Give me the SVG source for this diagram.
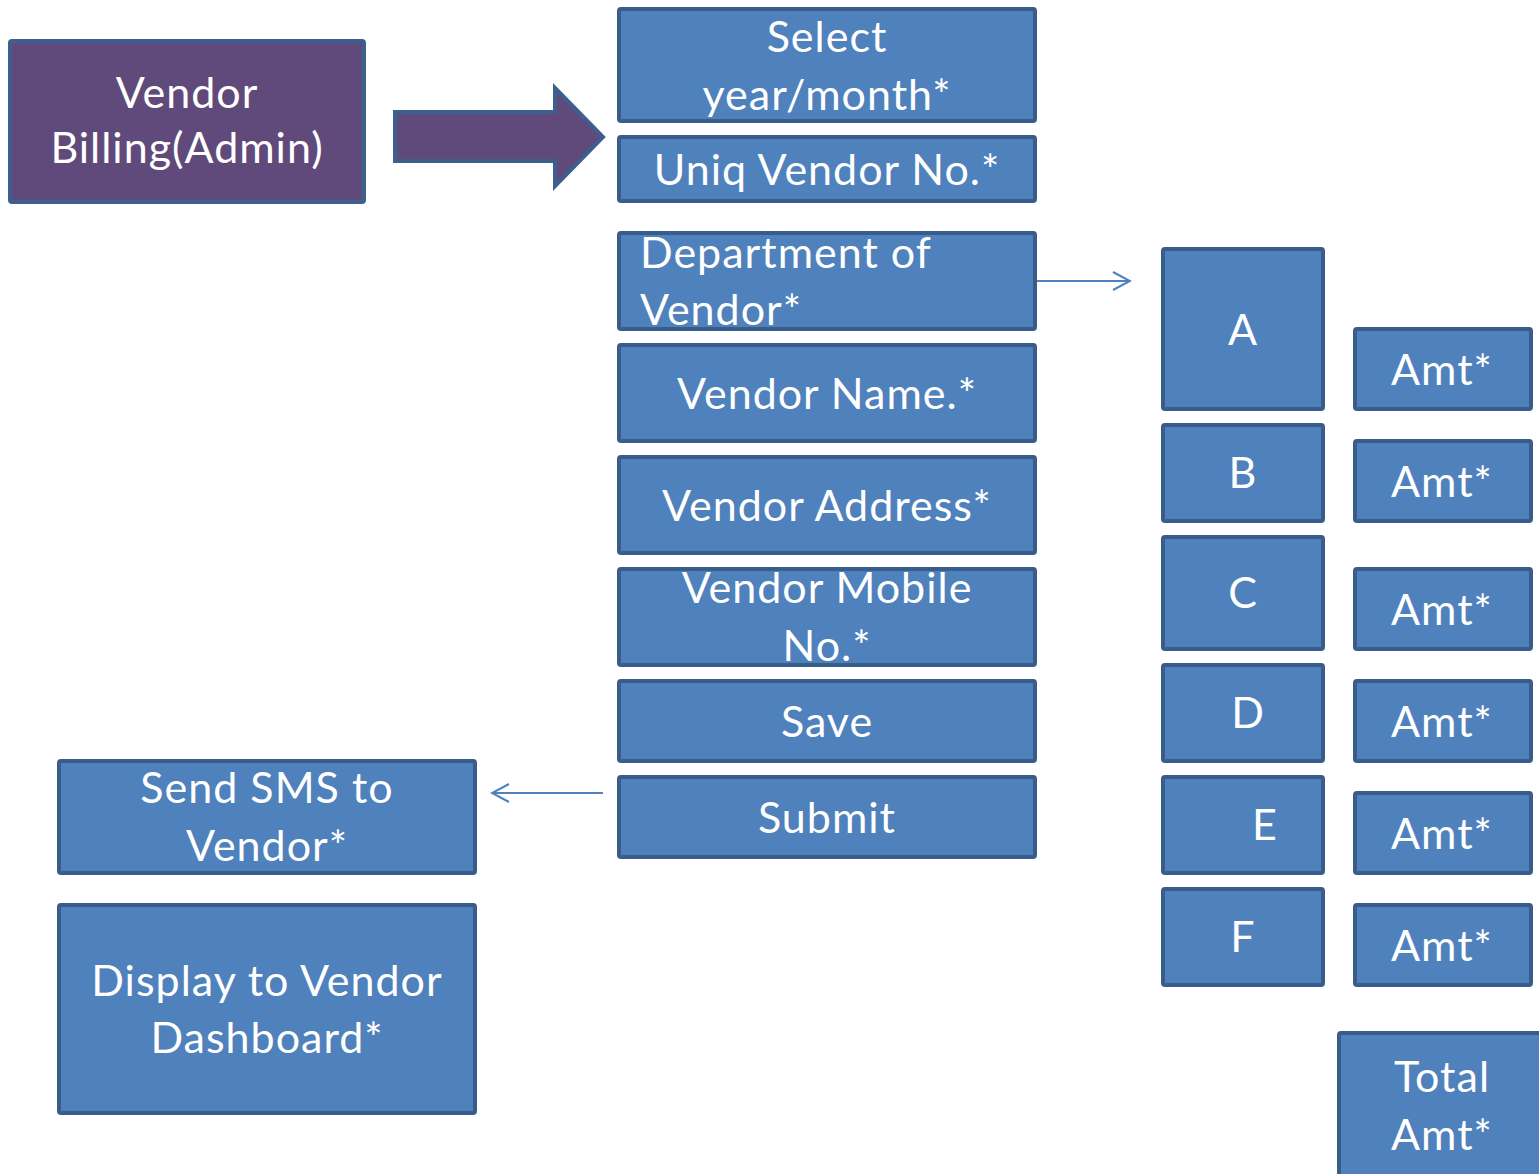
<svg xmlns="http://www.w3.org/2000/svg" width="1539" height="1174" viewBox="0 0 1539 1174">
<defs>
<style>
.box{fill:#4F81BD;stroke:#385D8A;stroke-width:4}
.pur{fill:#604A7B;stroke:#3D5F8E;stroke-width:4}
.t{font-family:Lato,"Open Sans","Liberation Sans",sans-serif;font-size:43px;letter-spacing:1px;fill:#FFFFFF;text-anchor:middle}
.tl{text-anchor:start}
.conn{stroke:#4F81BD;stroke-width:2;fill:none}
</style>
<marker id="open" viewBox="0 0 20 20" refX="18" refY="10" markerWidth="20" markerHeight="20" markerUnits="userSpaceOnUse" orient="auto">
<path d="M1,1 L18,10 L1,19" fill="none" stroke="#4F81BD" stroke-width="2"/>
</marker>
</defs>
<rect width="1539" height="1174" fill="#FFFFFF"/>
<g id="connectors">
<path id="bigarrow" class="pur" d="M395,112 L555,112 L555,88 L603,137 L555,186 L555,161 L395,161 Z"/>
<line class="conn" x1="1037" y1="281" x2="1130" y2="281" marker-end="url(#open)"/>
<line class="conn" x1="603" y1="793" x2="492" y2="793" marker-end="url(#open)"/>
</g>
<g id="vendor-billing"><rect class="pur" x="10" y="41" width="354" height="161" rx="2"/><text class="t" x="187" y="108">Vendor</text><text class="t" x="187" y="163">Billing(Admin)</text></g>
<g id="select"><rect class="box" x="619" y="9" width="416" height="112" rx="2"/><text class="t" x="827" y="52">Select</text><text class="t" x="827" y="110">year/month*</text></g>
<g id="uniq"><rect class="box" x="619" y="137" width="416" height="64" rx="2"/><text class="t" x="827" y="185">Uniq Vendor No.*</text></g>
<g id="dept"><rect class="box" x="619" y="233" width="416" height="96" rx="2"/><text class="t tl" x="640" y="268">Department of</text><text class="t tl" x="640" y="325">Vendor*</text></g>
<g id="name"><rect class="box" x="619" y="345" width="416" height="96" rx="2"/><text class="t" x="827" y="409">Vendor Name.*</text></g>
<g id="address"><rect class="box" x="619" y="457" width="416" height="96" rx="2"/><text class="t" x="827" y="521">Vendor Address*</text></g>
<g id="mobile"><rect class="box" x="619" y="569" width="416" height="96" rx="2"/><text class="t" x="827" y="603">Vendor Mobile</text><text class="t" x="827" y="661">No.*</text></g>
<g id="save"><rect class="box" x="619" y="681" width="416" height="80" rx="2"/><text class="t" x="827" y="737">Save</text></g>
<g id="submit"><rect class="box" x="619" y="777" width="416" height="80" rx="2"/><text class="t" x="827" y="833">Submit</text></g>
<g id="sms"><rect class="box" x="59" y="761" width="416" height="112" rx="2"/><text class="t" x="267" y="803">Send SMS to</text><text class="t" x="267" y="861">Vendor*</text></g>
<g id="display"><rect class="box" x="59" y="905" width="416" height="208" rx="2"/><text class="t" x="267" y="996">Display to Vendor</text><text class="t" x="267" y="1053">Dashboard*</text></g>
<g id="A"><rect class="box" x="1163" y="249" width="160" height="160" rx="2"/><text class="t" x="1243" y="345">A</text></g>
<g id="B"><rect class="box" x="1163" y="425" width="160" height="96" rx="2"/><text class="t" x="1243" y="488">B</text></g>
<g id="C"><rect class="box" x="1163" y="537" width="160" height="112" rx="2"/><text class="t" x="1243" y="608">C</text></g>
<g id="D"><rect class="box" x="1163" y="665" width="160" height="96" rx="2"/><text class="t" x="1248" y="728">D</text></g>
<g id="E"><rect class="box" x="1163" y="777" width="160" height="96" rx="2"/><text class="t" x="1265" y="840">E</text></g>
<g id="F"><rect class="box" x="1163" y="889" width="160" height="96" rx="2"/><text class="t" x="1243" y="952">F</text></g>
<g id="amt1"><rect class="box" x="1355" y="329" width="176" height="80" rx="2"/><text class="t" x="1442" y="385">Amt*</text></g>
<g id="amt2"><rect class="box" x="1355" y="441" width="176" height="80" rx="2"/><text class="t" x="1442" y="497">Amt*</text></g>
<g id="amt3"><rect class="box" x="1355" y="569" width="176" height="80" rx="2"/><text class="t" x="1442" y="625">Amt*</text></g>
<g id="amt4"><rect class="box" x="1355" y="681" width="176" height="80" rx="2"/><text class="t" x="1442" y="737">Amt*</text></g>
<g id="amt5"><rect class="box" x="1355" y="793" width="176" height="80" rx="2"/><text class="t" x="1442" y="849">Amt*</text></g>
<g id="amt6"><rect class="box" x="1355" y="905" width="176" height="80" rx="2"/><text class="t" x="1442" y="961">Amt*</text></g>
<g id="total"><rect class="box" x="1339" y="1033" width="220" height="160" rx="2"/><text class="t" x="1442" y="1092">Total</text><text class="t" x="1442" y="1150">Amt*</text></g>
</svg>
